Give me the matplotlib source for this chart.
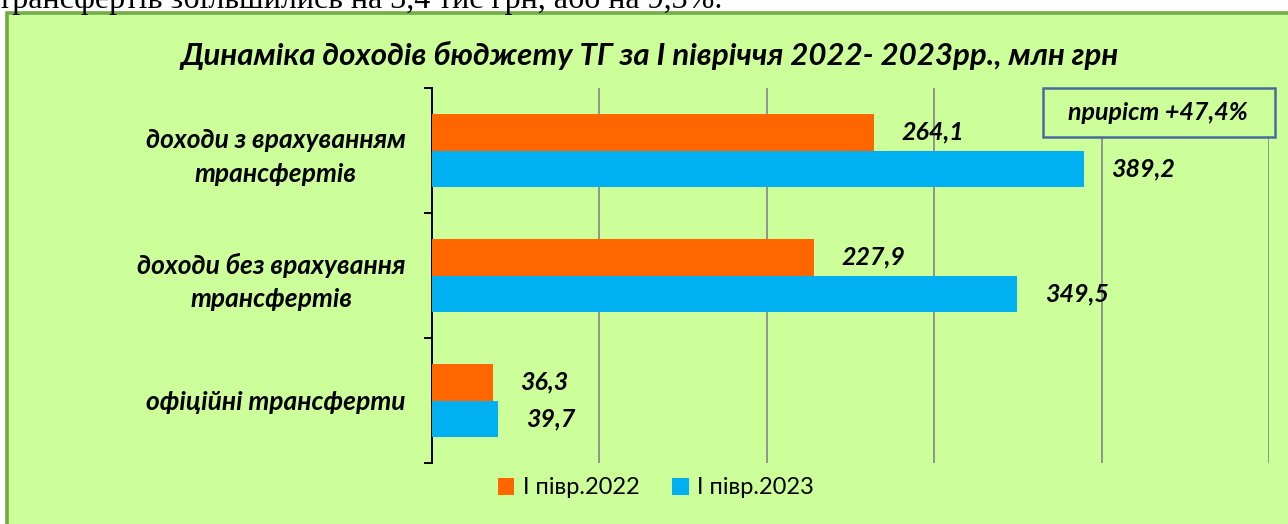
import numpy as np
import matplotlib.pyplot as plt
from matplotlib.patches import Rectangle

# Доходи бюджету ТГ, млн грн
categories = ["доходи з врахуванням\nтрансфертів",
              "доходи без врахування\nтрансфертів",
              "офіційні трансферти"]
vals_2022 = [264.1, 227.9, 36.3]
vals_2023 = [389.2, 349.5, 39.7]
series_names = ["І півр.2022", "І півр.2023"]
title = "Динаміка доходів бюджету ТГ за І півріччя 2022- 2023рр., млн грн"
note = "приріст +47,4%"
top_line = "трансфертів збільшились на 3,4 тис грн, або на 9,3%."

W, H = 1288, 524
plt.rcParams['font.family'] = ['Lato', 'DejaVu Sans']

fig = plt.figure(figsize=(W / 100, H / 100), dpi=100)
fig.patch.set_facecolor('white')

# зелена панель діаграми
panel = Rectangle((6.5 / W, -0.2), 1.2, 1.2 - 12.5 / H,
                  transform=fig.transFigure, facecolor='#CCFF99',
                  edgecolor='#70AD47', linewidth=2.6, zorder=-5)
fig.patches.append(panel)

# обрізаний рядок тексту над діаграмою
fig.text(-2 / W, 1 - 8 / H, top_line, family='Liberation Serif',
         fontsize=23, va='baseline', ha='left')

ax = fig.add_axes([432 / W, 1 - 463 / H, (1269 - 432) / W, (463 - 88) / H])
ax.set_facecolor('none')
ax.set_zorder(2)

y = np.arange(len(categories))
h = 0.29
b1 = ax.barh(y - h / 2, vals_2022, height=h, color='#FF6600', zorder=3)
b2 = ax.barh(y + h / 2, vals_2023, height=h, color='#00B0F0', zorder=3)

ax.set_xlim(0, 500)
ax.set_ylim(2.5, -0.5)
ax.set_xticks([100, 200, 300, 400, 500])
ax.set_xticklabels([])
ax.tick_params(axis='x', length=0)
ax.grid(axis='x', color='#8C8C8C', linewidth=1.3, zorder=1)

for s in ['top', 'right', 'bottom']:
    ax.spines[s].set_visible(False)
ax.spines['left'].set_linewidth(1.4)

ax.set_yticks([-0.5, 0.5, 1.5, 2.5])
ax.set_yticklabels([])
ax.tick_params(axis='y', which='major', length=6, width=1.4, direction='out')
ax.set_yticks(y, minor=True)
ax.set_yticklabels(categories, minor=True, fontsize=19, fontweight='bold',
                   fontstyle='italic', multialignment='center',
                   linespacing=1.45)
ax.tick_params(axis='y', which='minor', length=0, pad=19)

for bars, vals in [(b1, vals_2022), (b2, vals_2023)]:
    for bar, v in zip(bars, vals):
        ax.annotate(f"{v:.1f}".replace('.', ','),
                    (v, bar.get_y() + bar.get_height() / 2),
                    xytext=(20, 0), textcoords='offset points',
                    va='center', ha='left', fontsize=18,
                    fontweight='bold', fontstyle='italic')

fig.text(650 / W, 1 - 55 / H, title, ha='center', va='center', fontsize=22.5,
         fontweight='bold', fontstyle='italic')

# рамка з приростом (зелена заливка ховає сітку)
fig.patches.append(Rectangle((1043 / W, 1 - 137 / H), 232 / W, 49 / H,
                             transform=fig.transFigure, facecolor='#CCFF99',
                             edgecolor='#4A6A9C', linewidth=1.8, zorder=3))
fig.text(1158 / W, 1 - 112 / H, note, ha='center', va='center', fontsize=18,
         fontweight='bold', fontstyle='italic', zorder=4)

fig.legend([b1, b2], series_names, loc='center',
           bbox_to_anchor=(656 / W, 1 - 488 / H), ncol=2, frameon=False,
           fontsize=17, handlelength=0.7, handleheight=0.7,
           handletextpad=0.35, columnspacing=1.4)

plt.savefig('out.png', dpi=100)
